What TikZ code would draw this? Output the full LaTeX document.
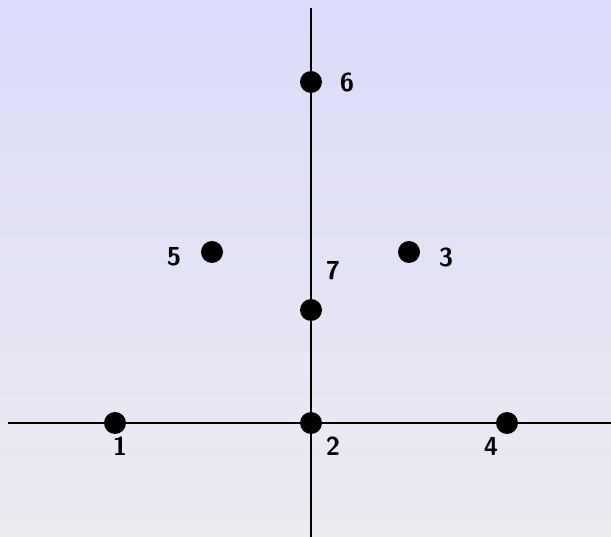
\documentclass[tikz,border=0pt]{standalone}
\usetikzlibrary{positioning}
\begin{document}
\begin{tikzpicture}[x=1pt,y=-1pt,
  dot/.style={circle,fill=black,inner sep=0pt,minimum size=22pt},
  lab/.style={inner sep=0pt,font=\fontsize{26}{30}\selectfont\sffamily\bfseries},
  axis/.style={line width=1.6pt,black}]
\shade[top color={rgb,255:red,219;green,219;blue,250},bottom color={rgb,255:red,236;green,235;blue,241}] (0,0) rectangle (611,537);
\useasboundingbox (0,0) rectangle (611,537);
\coordinate (xl) at (8,423);
\coordinate (xr) at (611,423);
\coordinate (yt) at (311,8);
\coordinate (yb) at (311,537);
\draw[axis] (xl) -- (xr);
\draw[axis] (yt) -- (yb);
\node[dot] (p1) at (115,423) {};
\node[dot] (p2) at (311,423) {};
\node[dot] (p4) at (507,423) {};
\node[dot] (p7) at (311,310) {};
\node[dot] (p5) at (212,252) {};
\node[dot] (p3) at (409,252) {};
\node[dot] (p6) at (311,82) {};
\node[lab] (l1) at (120,446) {1};
\node[lab] (l2) at (333,446) {2};
\node[lab] (l4) at (491,446) {4};
\node[lab] (l7) at (333,271) {7};
\node[lab] (l5) at (174,257) {5};
\node[lab] (l3) at (446,257) {3};
\node[lab] (l6) at (347,82) {6};
\end{tikzpicture}
\end{document}
